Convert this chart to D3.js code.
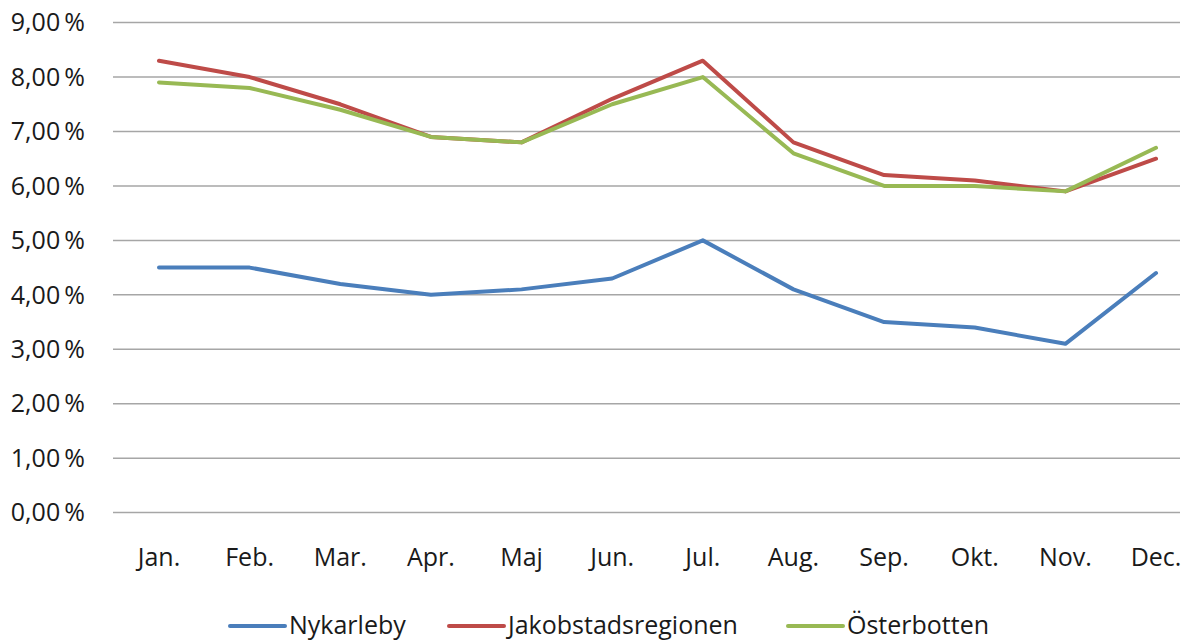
<!DOCTYPE html>
<html lang="sv">
  <head>
    <meta charset="UTF-8" />
    <title>Arbetslöshet</title>
    <style>
      body { margin: 0; background: #fff; }
      text { font-family: "Open Sans", sans-serif; fill: #1a1a1a; }
      .grid line { stroke: #a6a6a6; stroke-width: 1.5px; }
      .line { fill: none; stroke-width: 4px; stroke-linejoin: round; stroke-linecap: round; }
    </style>
  </head>
  <body>
    <div id="chart"></div>
    <script src="https://d3js.org/d3.v7.min.js"></script>
    <script>
      // data
      var months = ["Jan.", "Feb.", "Mar.", "Apr.", "Maj", "Jun.", "Jul.", "Aug.", "Sep.", "Okt.", "Nov.", "Dec."];
      var nykarleby = [4.5, 4.5, 4.2, 4.0, 4.1, 4.3, 5.0, 4.1, 3.5, 3.4, 3.1, 4.4];
      var jakobstad = [8.3, 8.0, 7.5, 6.9, 6.8, 7.6, 8.3, 6.8, 6.2, 6.1, 5.9, 6.5];
      var osterbotten = [7.9, 7.8, 7.4, 6.9, 6.8, 7.5, 8.0, 6.6, 6.0, 6.0, 5.9, 6.7];
      var yTicks = [0, 1, 2, 3, 4, 5, 6, 7, 8, 9];

      var series = [
        { name: "Nykarleby", values: nykarleby, color: "#4a7ebb" },
        { name: "Jakobstadsregionen", values: jakobstad, color: "#be4b48" },
        { name: "Österbotten", values: osterbotten, color: "#98b954" }
      ];

      var width = 1187, height = 641;
      var plotLeft = 113, plotRight = 1180;

      var svg = d3.select("#chart").append("svg")
          .attr("width", width)
          .attr("height", height);

      var x = d3.scalePoint().domain(months).range([159, 1156]);
      var y = d3.scaleLinear().domain([0, 9]).range([512.6, 22.6]);

      // gridlines
      svg.append("g")
          .attr("class", "grid")
        .selectAll("line")
        .data(yTicks)
        .enter().append("line")
          .attr("x1", plotLeft)
          .attr("x2", plotRight)
          .attr("y1", function(d) { return y(d); })
          .attr("y2", function(d) { return y(d); });

      // y labels
      svg.append("g")
        .selectAll("text")
        .data(yTicks)
        .enter().append("text")
          .attr("x", 85)
          .attr("y", function(d) { return y(d); })
          .attr("dy", "0.35em")
          .attr("text-anchor", "end")
          .style("font-size", "25px")
          .text(function(d) { return d.toFixed(2).replace(".", ",") + "\u2009%"; });

      // x labels
      svg.append("g")
        .selectAll("text")
        .data(months)
        .enter().append("text")
          .attr("x", function(d) { return x(d); })
          .attr("y", 566)
          .attr("text-anchor", "middle")
          .style("font-size", "25px")
          .text(function(d) { return d; });

      var line = d3.line()
          .x(function(d, i) { return x(months[i]); })
          .y(function(d) { return y(d); });

      svg.selectAll(".line")
        .data(series)
        .enter().append("path")
          .attr("class", "line")
          .style("stroke", function(d) { return d.color; })
          .attr("d", function(d) { return line(d.values); });

      // legend
      var legendX = [230, 449, 788];
      var legend = svg.selectAll(".legend")
        .data(series)
        .enter().append("g")
          .attr("class", "legend")
          .attr("transform", function(d, i) { return "translate(" + legendX[i] + ",626)"; });

      legend.append("line")
          .attr("x1", 0)
          .attr("x2", 55)
          .attr("stroke", function(d) { return d.color; })
          .attr("stroke-width", 4)
          .attr("stroke-linecap", "round");

      legend.append("text")
          .attr("x", 59)
          .attr("y", 8)
          .style("font-size", "25px")
          .text(function(d) { return d.name; });
    </script>
  </body>
</html>
